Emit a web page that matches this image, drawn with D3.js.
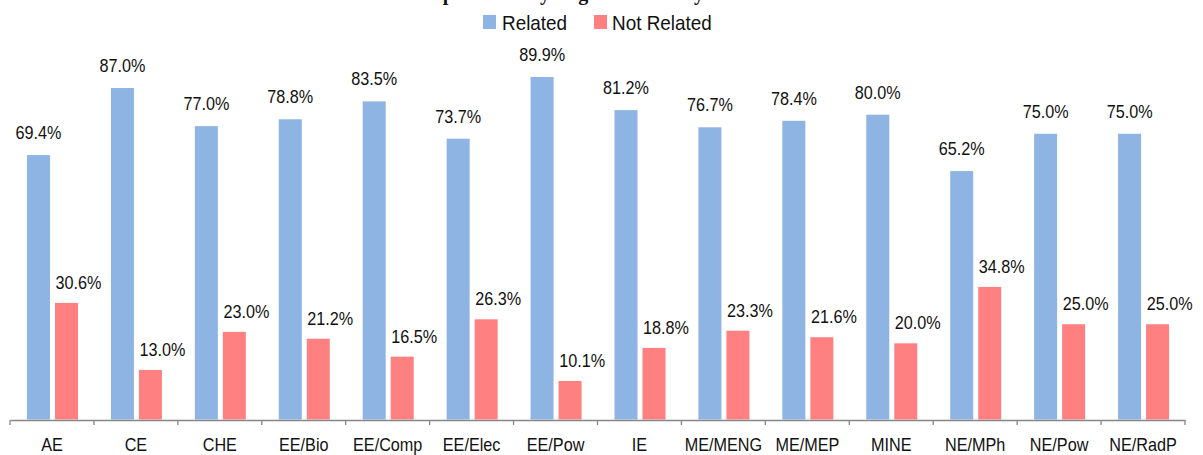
<!DOCTYPE html>
<html>
<head>
<meta charset="utf-8">
<script src="https://cdn.jsdelivr.net/npm/d3@7"></script>
<style>
  html, body { margin: 0; padding: 0; background: #fff; }
  svg { display: block; }
  text { font-family: "Liberation Sans", Arial, sans-serif; fill: #111; }
</style>
</head>
<body>
<svg id="chart" width="1203" height="455"></svg>
<script>
const categories = ["AE", "CE", "CHE", "EE/Bio", "EE/Comp", "EE/Elec", "EE/Pow", "IE", "ME/MENG", "ME/MEP", "MINE", "NE/MPh", "NE/Pow", "NE/RadP"];
const seriesNames = ["Related", "Not Related"];
const related    = [69.4, 87.0, 77.0, 78.8, 83.5, 73.7, 89.9, 81.2, 76.7, 78.4, 80.0, 65.2, 75.0, 75.0];
const notRelated = [30.6, 13.0, 23.0, 21.2, 16.5, 26.3, 10.1, 18.8, 23.3, 21.6, 20.0, 34.8, 25.0, 25.0];
const titleText = "Relationship to Field by Degree Summary";

const colors = { "Related": "#8EB4E3", "Not Related": "#FF8080" };
const svg = d3.select("#chart");

const x = d3.scaleBand().domain(categories).range([10, 1185]).padding(0);
const xs = d3.scaleBand().domain(seriesNames).range([17, 68]).paddingInner(0.1786).paddingOuter(0);
const y = d3.scaleLinear().domain([0, 100]).range([419.5, 38.5]);

const rows = categories.map((c, i) => ({ cat: c, vals: [
  { s: "Related", v: related[i] },
  { s: "Not Related", v: notRelated[i] }
]}));

// title (cut off at top)
svg.append("text")
  .attr("x", 346).attr("y", 0)
  .style("font-family", "'Liberation Serif', 'Times New Roman', serif")
  .style("font-weight", "bold")
  .style("font-size", "20px")
  .text(titleText);

// bars
const g = svg.append("g");
const groups = g.selectAll("g.cat").data(rows).join("g")
  .attr("transform", d => `translate(${x(d.cat)},0)`);

groups.selectAll("rect").data(d => d.vals).join("rect")
  .attr("x", d => xs(d.s))
  .attr("width", xs.bandwidth())
  .attr("y", d => y(d.v))
  .attr("height", d => y(0) - y(d.v))
  .attr("fill", d => colors[d.s]);

groups.selectAll("text.lbl").data(d => d.vals).join("text")
  .attr("class", "lbl")
  .attr("text-anchor", "middle")
  .attr("transform", d => {
    const cx = xs(d.s) + xs.bandwidth() / 2 + (d.s === "Not Related" ? 12 : 0);
    const cy = y(d.v) - (d.s === "Not Related" ? 14 : 16);
    return `translate(${cx},${cy}) scale(0.9,1)`;
  })
  .style("font-size", "18px")
  .text(d => d.v.toFixed(1) + "%");

// axis
const axis = svg.append("g").attr("transform", "translate(0,420)")
  .call(d3.axisBottom(x).tickSizeInner(0).tickSizeOuter(0).tickPadding(0));
axis.select(".domain").attr("stroke", "#868686").attr("stroke-width", 1.3);
axis.selectAll(".tick line").remove();
axis.selectAll(".tick text")
  .attr("y", 31).attr("dy", 0)
  .attr("transform", "scale(0.9,1)")
  .style("font-size", "18px")
  .style("font-family", "'Liberation Sans', Arial, sans-serif")
  .attr("fill", "#111");

// boundary ticks
const bounds = categories.map(c => x(c)).concat([x.range()[1]]);
axis.selectAll("line.bt").data(bounds).join("line")
  .attr("class", "bt")
  .attr("x1", d => d).attr("x2", d => d)
  .attr("y1", 0).attr("y2", 5)
  .attr("stroke", "#868686").attr("stroke-width", 1.3);

// legend
const legendItems = [
  { s: "Related", sx: 483, tx: 502 },
  { s: "Not Related", sx: 594, tx: 612 }
];
const lg = svg.append("g");
lg.selectAll("rect").data(legendItems).join("rect")
  .attr("x", d => d.sx).attr("y", 15).attr("width", 13).attr("height", 14)
  .attr("fill", d => colors[d.s]);
lg.selectAll("text").data(legendItems).join("text")
  .attr("transform", d => `translate(${d.tx},30) scale(0.9,1)`)
  .style("font-size", "21px")
  .text(d => d.s);
</script>
</body>
</html>
